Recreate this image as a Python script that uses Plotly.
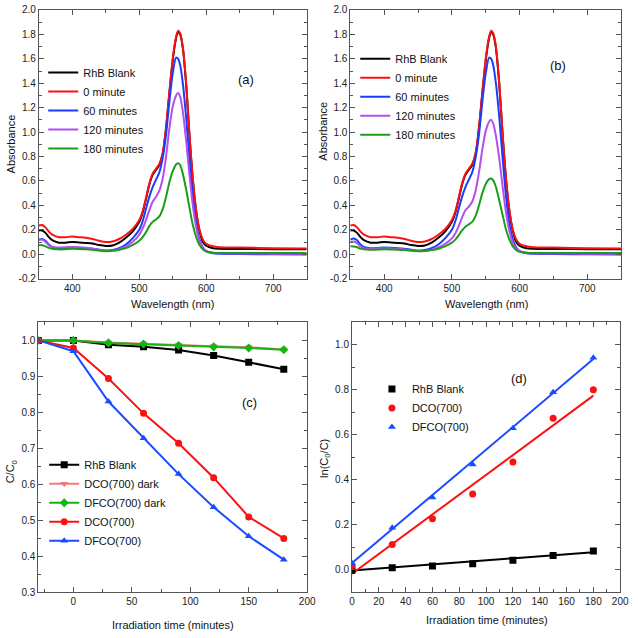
import plotly.graph_objects as go

# ---------------- Panel (a)/(b) spectra ----------------
wavelength = [350, 355, 360, 365, 370, 380, 390, 400, 410, 420, 430, 440, 450, 460, 470, 480, 490,
              500, 505, 510, 515, 520, 525, 530, 535, 540, 545, 550, 555, 558, 561, 565, 570, 575,
              580, 585, 590, 595, 600, 610, 620, 650, 700, 750]

a_blank = [.195, .195, .175, .14, .115, .095, .095, .10, .097, .093, .088, .075, .068, .072, .095, .135, .185,
           .265, .34, .45, .57, .65, .69, .73, .82, 1.03, 1.32, 1.59, 1.77, 1.82, 1.80, 1.69, 1.39, .97,
           .61, .35, .19, .10, .07, .05, .045, .043, .042, .04]
a_0min = [.235, .24, .22, .185, .16, .14, .14, .145, .14, .135, .125, .11, .10, .105, .125, .16, .205,
          .28, .35, .46, .58, .66, .70, .74, .83, 1.04, 1.33, 1.60, 1.78, 1.83, 1.81, 1.70, 1.40, .98,
          .62, .36, .20, .12, .085, .065, .058, .055, .05, .048]
a_60min = [.12, .125, .11, .08, .06, .05, .052, .055, .053, .05, .045, .037, .03, .035, .05, .08, .13,
           .20, .27, .37, .47, .55, .61, .67, .79, .98, 1.25, 1.48, 1.61, 1.60, 1.55, 1.40, 1.12, .78,
           .47, .25, .12, .055, .025, .008, .004, .002, 0.0, -.002]
a_120min = [.12, .12, .10, .075, .06, .055, .058, .06, .057, .053, .047, .037, .028, .03, .042, .065, .10,
            .16, .21, .28, .36, .43, .47, .52, .62, .80, 1.03, 1.21, 1.30, 1.32, 1.29, 1.17, .93, .65,
            .40, .22, .11, .05, .028, .012, .008, .006, .005, .005]
a_180min = [.075, .073, .065, .052, .045, .04, .042, .045, .043, .04, .036, .03, .025, .028, .037, .05, .075,
            .11, .14, .18, .23, .265, .285, .31, .37, .47, .59, .68, .735, .745, .73, .66, .53, .38,
            .24, .14, .075, .04, .022, .013, .011, .01, .01, .01]

b_blank = a_blank
b_0min = a_0min
b_60min = [.12, .13, .115, .08, .06, .05, .052, .055, .053, .05, .045, .037, .03, .035, .05, .08, .13,
           .20, .27, .37, .47, .55, .61, .67, .79, .98, 1.25, 1.48, 1.61, 1.60, 1.55, 1.40, 1.12, .78,
           .47, .25, .12, .055, .025, .008, .004, .002, 0.0, -.002]
b_120min = [.10, .105, .09, .065, .05, .045, .047, .05, .048, .045, .04, .033, .026, .028, .037, .055, .085,
            .13, .17, .23, .30, .36, .39, .43, .52, .67, .86, 1.01, 1.085, 1.10, 1.07, .97, .78, .55,
            .34, .19, .095, .045, .025, .012, .008, .006, .005, .005]
b_180min = [.065, .063, .057, .046, .04, .037, .038, .04, .039, .037, .034, .029, .025, .027, .034, .045, .065,
            .095, .12, .155, .195, .225, .245, .265, .315, .40, .50, .575, .615, .62, .605, .55, .44, .32,
            .20, .12, .065, .035, .02, .012, .01, .01, .01, .01]

spectra_names = ["RhB Blank", "0 minute", "60 minutes", "120 minutes", "180 minutes"]
spectra_colors = ["#000000", "#ff1010", "#1a3cff", "#b44ef0", "#1a9e1a"]

abs_tickvals = [-0.2, 0.0, 0.2, 0.4, 0.6, 0.8, 1.0, 1.2, 1.4, 1.6, 1.8, 2.0]
abs_ticktext = ["-0.2", "0.0", "0.2", "0.4", "0.6", "0.8", "1.0", "1.2", "1.4", "1.6", "1.8", "2.0"]

# ---------------- Panel (c) kinetics ----------------
time_c = [-30, 0, 30, 60, 90, 120, 150, 180]
c_blank = [1.0, 1.0, 0.988, 0.982, 0.973, 0.958, 0.939, 0.920]
c_dco_dark = [1.0, 1.0, 0.994, 0.990, 0.987, 0.984, 0.981, 0.975]
c_dfco_dark = [1.0, 1.0, 0.993, 0.990, 0.986, 0.982, 0.979, 0.974]
c_dco = [1.0, 0.979, 0.894, 0.797, 0.714, 0.618, 0.509, 0.449]
c_dfco = [1.0, 0.970, 0.830, 0.728, 0.628, 0.536, 0.455, 0.390]

# ---------------- Panel (d) ln(C0/C) ----------------
time_d = [0, 30, 60, 90, 120, 150, 180]
d_blank = [-0.003, 0.008, 0.016, 0.026, 0.041, 0.062, 0.083]
d_dco = [0.018, 0.111, 0.226, 0.336, 0.479, 0.673, 0.80]
d_dfco = [0.028, 0.186, 0.321, 0.468, 0.629, 0.789, 0.943]
fit_x = [0, 180]
fit_blank = [-0.004, 0.077]
fit_dco = [-0.019, 0.774]
fit_dfco = [0.029, 0.937]

FONT = "Arial, Liberation Sans, sans-serif"
fig = go.Figure()

# spectra
for data, ax, lg in [((a_blank, a_0min, a_60min, a_120min, a_180min), ("x", "y"), "legend"),
                     ((b_blank, b_0min, b_60min, b_120min, b_180min), ("x2", "y2"), "legend2")]:
    for name, col, ys in zip(spectra_names, spectra_colors, data):
        fig.add_trace(go.Scatter(x=wavelength, y=ys, mode="lines", name=name,
                                 line=dict(color=col, width=2, shape="spline", smoothing=0.8),
                                 xaxis=ax[0], yaxis=ax[1], legend=lg))

# panel c
c_series = [
    ("RhB Blank", c_blank, "#000000", "square", "#000000"),
    ("DCO(700) dark", c_dco_dark, "#f07a7a", "triangle-down", "#f07a7a"),
    ("DFCO(700) dark", c_dfco_dark, "#14b414", "diamond", "#14b414"),
    ("DCO(700)", c_dco, "#ff1010", "circle", "#ff1010"),
    ("DFCO(700)", c_dfco, "#1a4cff", "triangle-up", "#1a4cff"),
]
for name, ys, col, sym, mcol in c_series:
    fig.add_trace(go.Scatter(x=time_c, y=ys, mode="lines+markers", name=name,
                             line=dict(color=col, width=2),
                             marker=dict(symbol=sym, size=7, color=mcol),
                             xaxis="x3", yaxis="y3", legend="legend3"))

# panel d
d_series = [
    ("RhB Blank", d_blank, fit_blank, "#000000", "square"),
    ("DCO(700)", d_dco, fit_dco, "#ff1010", "circle"),
    ("DFCO(700)", d_dfco, fit_dfco, "#1a4cff", "triangle-up"),
]
for name, ys, fy, col, sym in d_series:
    fig.add_trace(go.Scatter(x=fit_x, y=fy, mode="lines", showlegend=False,
                             line=dict(color=col, width=2), xaxis="x4", yaxis="y4"))
for name, ys, fy, col, sym in d_series:
    fig.add_trace(go.Scatter(x=time_d, y=ys, mode="markers", name=name,
                             marker=dict(symbol=sym, size=7, color=col),
                             xaxis="x4", yaxis="y4", legend="legend4"))

AXC = "#555555"


def ax(domain, rng, dtick, minor_dtick, anchor, **kw):
    d = dict(domain=domain, range=rng, dtick=dtick, anchor=anchor, showline=True, linecolor=AXC,
             linewidth=1, mirror="ticks", ticks="inside", ticklen=5, tickwidth=1, tickcolor=AXC,
             minor=dict(ticks="inside", ticklen=3, tickcolor=AXC, dtick=minor_dtick),
             showgrid=False, zeroline=False, ticklabeloverflow="allow",
             tickfont=dict(size=10, color="#222", family=FONT))
    d.update(kw)
    return d


ya = [1 - 278.5 / 638, 1 - 5 / 638]
yc = [1 - 597.3 / 638, 1 - 323 / 638]

legend_common = dict(bgcolor="rgba(0,0,0,0)", borderwidth=0, font=dict(size=11, family=FONT, color="#111"),
                     xanchor="left", yanchor="top", xref="paper", yref="paper", tracegroupgap=0,
                     itemwidth=30)

fig.update_layout(
    width=638, height=638, margin=dict(l=0, r=0, t=0, b=0),
    paper_bgcolor="white", plot_bgcolor="white", font=dict(family=FONT, size=11, color="#111"),
    xaxis=ax([36.5 / 638, 309.5 / 638], [350, 750], 100, 50, "y"),
    yaxis=ax(ya, [-0.2, 2.0], 0.2, 0.1, "x", tickvals=abs_tickvals, ticktext=abs_ticktext),
    xaxis2=ax([354 / 638, 630 / 638], [350, 750], 100, 50, "y2"),
    yaxis2=ax(ya, [-0.2, 2.0], 0.2, 0.1, "x2", tickvals=abs_tickvals, ticktext=abs_ticktext),
    xaxis3=ax([36 / 638, 310 / 638], [-30, 200], 50, 25, "y3"),
    yaxis3=ax(yc, [0.3, 1.05], 0.1, 0.05, "x3", tickformat=".1f"),
    xaxis4=ax([355.7 / 638, 629 / 638], [0, 200], 20, 10, "y4"),
    yaxis4=ax(yc, [-0.1, 1.1], 0.2, 0.1, "x4", tickformat=".1f"),
    legend=dict(legend_common, x=41 / 638, y=1 - 54 / 638),
    legend2=dict(legend_common, x=359 / 638, y=1 - 40 / 638),
    legend3=dict(legend_common, x=42 / 638, y=1 - 453 / 638),
    legend4=dict(legend_common, x=376 / 638, y=1 - 376 / 638),
    showlegend=True,
)

annots = [
    ("Absorbance", 8, 141, -90, 11),
    ("Wavelength (nm)", 173, 304, 0, 11),
    ("Absorbance", 326, 128, -90, 11),
    ("Wavelength (nm)", 493, 304, 0, 11),
    ("C/C<sub>0</sub>", 8, 474.7, -90, 11),
    ("Irradiation time (minutes)", 173, 631, 0, 11),
    ("ln(C<sub>0</sub>/C)", 328, 461, -90, 11),
    ("Irradiation time (minutes)", 493, 626, 0, 11),
    ("(a)", 248, 75.7, 0, 13),
    ("(b)", 566, 61.7, 0, 13),
    ("(c)", 251.7, 404, 0, 13),
    ("(d)", 526, 379.7, 0, 13),
]
for text, px, py, ang, fs in annots:
    fig.add_annotation(text=text, x=px / 638, y=1 - py / 638, xref="paper", yref="paper",
                       showarrow=False, textangle=ang, xanchor="center", yanchor="middle",
                       font=dict(size=fs, family=FONT, color="#111"))

fig.write_html("out.html", config={"displayModeBar": False},
               post_script="document.body.style.margin='0px';document.body.style.padding='0px';"
                           "document.body.style.overflow='hidden';")
